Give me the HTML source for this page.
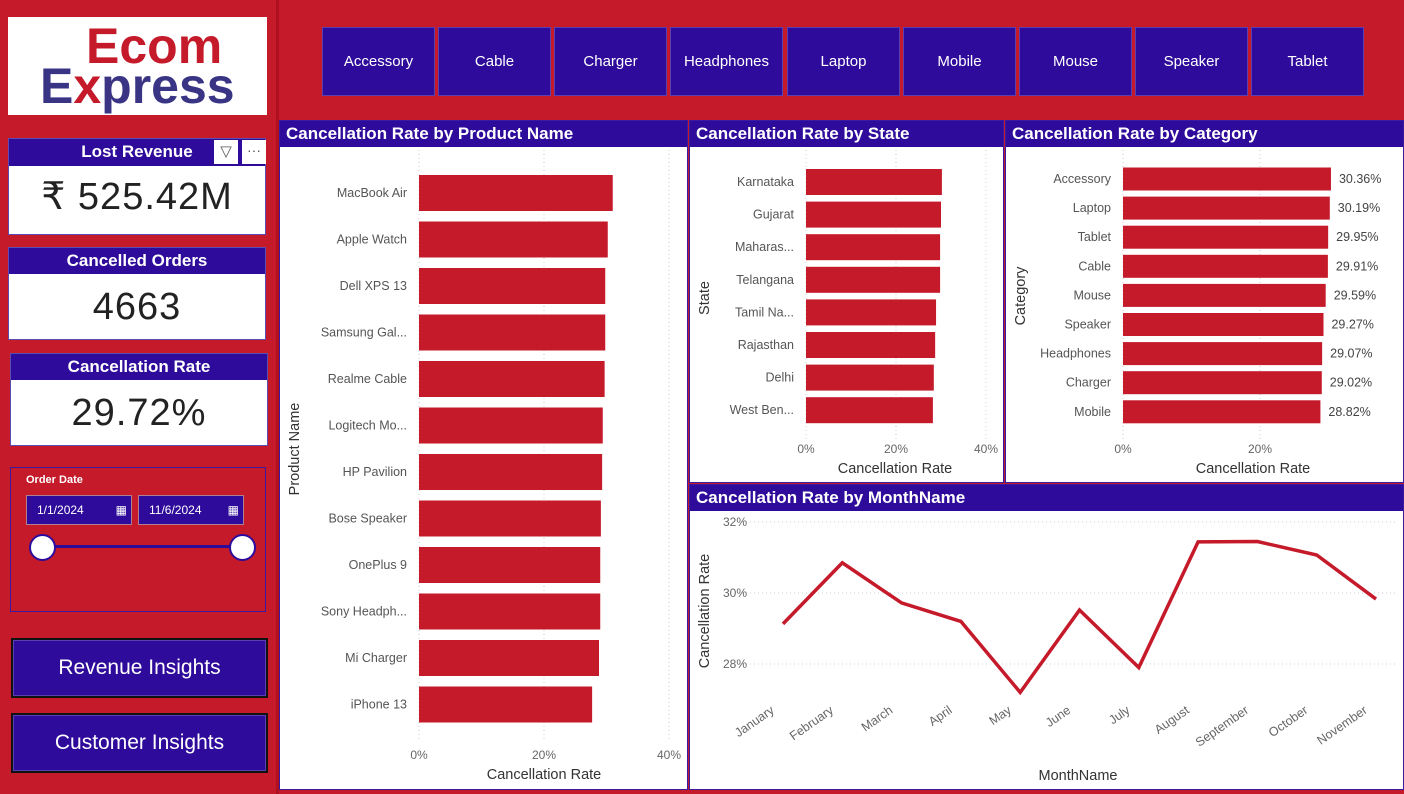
<!DOCTYPE html>
<html><head><meta charset="utf-8">
<style>
body{margin:0;width:1404px;height:794px;overflow:hidden;background:#c51a2a;font-family:"Liberation Sans","DejaVu Sans",sans-serif;position:relative}
.abs{position:absolute;box-sizing:border-box}
.tab{background:#2e0b9a;color:#fff;font-size:15px;display:flex;align-items:center;justify-content:center;border:1px solid #5a3fb0;top:27px;height:69px;width:113px}
.card{background:#fff;border:1px solid #5b4db0}
.card .h{background:#2e0b9a;color:#fff;font-weight:bold;font-size:17px;text-align:center;height:26px;line-height:26px}
.card .v{text-align:center;color:#222;font-size:38px;letter-spacing:1px}
.btn{background:#2e0b9a;color:#fff;font-size:21px;display:flex;align-items:center;justify-content:center;border:2px solid #111;outline:1px solid #5a3fb0;outline-offset:-3px}
.ph{background:#2e0b9a;color:#fff;font-weight:bold;font-size:17px;height:26px;line-height:26px;padding-left:6px}
</style></head><body>
<div class="abs" style="left:276px;top:0;width:3px;height:794px;background:#b01020"></div>
<div class="abs" style="left:8px;top:17px;width:259px;height:98px;background:#fff">
  <div style="position:absolute;left:78px;top:4px;font-size:50px;font-weight:bold;color:#c51a2a;line-height:50px">Ecom</div>
  <div style="position:absolute;left:32px;top:44px;font-size:50px;font-weight:bold;color:#3a3485;line-height:50px">E<span style="color:#c51a2a">x</span>press</div>
</div>
<div class="abs card" style="left:8px;top:138px;width:258px;height:97px">
  <div class="h" style="height:27px">Lost Revenue</div>
  <div class="abs" style="left:205px;top:1px;width:24px;height:24px;background:#fff;color:#555;text-align:center;font-size:15px;line-height:24px">▽</div>
  <div class="abs" style="left:233px;top:1px;width:24px;height:24px;background:#fff;color:#555;text-align:center;font-size:14px;line-height:20px">···</div>
  <div class="v" style="margin-top:8px">₹ 525.42M</div>
</div>
<div class="abs card" style="left:8px;top:247px;width:258px;height:93px">
  <div class="h">Cancelled Orders</div><div class="v" style="margin-top:12px">4663</div>
</div>
<div class="abs card" style="left:10px;top:353px;width:258px;height:93px">
  <div class="h">Cancellation Rate</div><div class="v" style="margin-top:12px">29.72%</div>
</div>
<div class="abs" style="left:10px;top:467px;width:256px;height:145px;border:1px solid #3a1aa0">
  <div class="abs" style="left:15px;top:6px;color:#fff;font-size:11px;font-weight:bold">Order Date</div>
  <div class="abs" style="left:15px;top:27px;width:106px;height:30px;background:#2e0b9a;border:1px solid #b08090;color:#fff;font-size:12px;line-height:28px;padding-left:10px">1/1/2024<span style="position:absolute;right:4px;top:0;font-size:12px">▦</span></div>
  <div class="abs" style="left:127px;top:27px;width:106px;height:30px;background:#2e0b9a;border:1px solid #b08090;color:#fff;font-size:12px;line-height:28px;padding-left:10px">11/6/2024<span style="position:absolute;right:4px;top:0;font-size:12px">▦</span></div>
  <div class="abs" style="left:32px;top:77px;width:200px;height:3px;background:#2e0b9a"></div>
  <div class="abs" style="left:18px;top:66px;width:27px;height:27px;border-radius:50%;background:#fff;border:2px solid #2e0b9a"></div>
  <div class="abs" style="left:218px;top:66px;width:27px;height:27px;border-radius:50%;background:#fff;border:2px solid #2e0b9a"></div>
</div>
<div class="abs btn" style="left:11px;top:638px;width:257px;height:60px">Revenue Insights</div>
<div class="abs btn" style="left:11px;top:713px;width:257px;height:60px">Customer Insights</div>

<div class="abs tab" style="left:322px">Accessory</div>
<div class="abs tab" style="left:438px">Cable</div>
<div class="abs tab" style="left:554px">Charger</div>
<div class="abs tab" style="left:670px">Headphones</div>
<div class="abs tab" style="left:787px">Laptop</div>
<div class="abs tab" style="left:903px">Mobile</div>
<div class="abs tab" style="left:1019px">Mouse</div>
<div class="abs tab" style="left:1135px">Speaker</div>
<div class="abs tab" style="left:1251px">Tablet</div>

<div class="abs" style="left:279px;top:120px;width:409px;height:670px;background:#fff;border:1px solid #3a1aa0"><div class="ph">Cancellation Rate by Product Name</div></div>
<div class="abs" style="left:689px;top:120px;width:315px;height:363px;background:#fff;border:1px solid #3a1aa0"><div class="ph">Cancellation Rate by State</div></div>
<div class="abs" style="left:1005px;top:120px;width:399px;height:363px;background:#fff;border:1px solid #3a1aa0"><div class="ph">Cancellation Rate by Category</div></div>
<div class="abs" style="left:689px;top:484px;width:715px;height:306px;background:#fff;border:1px solid #3a1aa0"><div class="ph">Cancellation Rate by MonthName</div></div>

<svg id="charts" class="abs" style="left:0;top:0" width="1404" height="794" font-family="Liberation Sans, sans-serif"></svg>
<script>
const products=["MacBook Air","Apple Watch","Dell XPS 13","Samsung Gal...","Realme Cable","Logitech Mo...","HP Pavilion","Bose Speaker","OnePlus 9","Sony Headph...","Mi Charger","iPhone 13"];
const productRates=[31.0,30.2,29.8,29.8,29.7,29.4,29.3,29.1,29.0,29.0,28.8,27.7];
const states=["Karnataka","Gujarat","Maharas...","Telangana","Tamil Na...","Rajasthan","Delhi","West Ben..."];
const stateRates=[30.2,30.0,29.8,29.8,28.9,28.7,28.4,28.2];
const categories=["Accessory","Laptop","Tablet","Cable","Mouse","Speaker","Headphones","Charger","Mobile"];
const categoryRates=[30.36,30.19,29.95,29.91,29.59,29.27,29.07,29.02,28.82];
const months=["January","February","March","April","May","June","July","August","September","October","November"];
const monthRates=[29.13,30.85,29.72,29.2,27.2,29.52,27.9,31.44,31.45,31.07,29.83];
const xTicks=[0,20,40];
const yTicksMonth=[28,30,32];

const svg=document.getElementById('charts');
const NS='http://www.w3.org/2000/svg';
function mk(tag,attrs,text){const e=document.createElementNS(NS,tag);for(const k in attrs)e.setAttribute(k,attrs[k]);if(text!==undefined)e.textContent=text;svg.appendChild(e);return e;}

function barChart(name,labels,vals,x0,pxPer,yTop,step,bh,ticks,gridTop,gridBot,tickY,labelsFmt,axisTitleX,axisTitleY,yTitle,yTitleX,yTitleY){
  ticks.forEach(t=>{const x=x0+t*pxPer;
    const g=mk('line',{x1:x,x2:x,y1:gridTop,y2:gridBot,stroke:'#ccc','stroke-dasharray':'1,3'});
    
    const tl=mk('text',{x:x,y:tickY,'font-size':12,fill:'#666','text-anchor':'middle'},t+'%');
    });
  labels.forEach((l,i)=>{const cy=yTop+i*step;
    const r=mk('rect',{x:x0,y:cy-bh/2,width:vals[i]*pxPer,height:bh,fill:'#c51a2a'});
    
    const t=mk('text',{x:x0-12,y:cy+4,'font-size':12.5,fill:'#555','text-anchor':'end'},l);
    
    if(labelsFmt){const v=mk('text',{x:x0+vals[i]*pxPer+8,y:cy+4,'font-size':12.5,fill:'#444'},vals[i].toFixed(2)+'%');
      }
  });
  const at=mk('text',{x:axisTitleX,y:axisTitleY,'font-size':14.5,fill:'#333','text-anchor':'middle'},'Cancellation Rate');
  
  const yt=mk('text',{x:yTitleX,y:yTitleY,'font-size':14.5,fill:'#333','text-anchor':'middle',transform:`rotate(-90 ${yTitleX} ${yTitleY})`},yTitle);
  
}
barChart('product',products,productRates,419,6.25,193,46.5,36,xTicks,150,742,759,false,544,779,'Product Name',299,449);
barChart('state',states,stateRates,806,4.5,182,32.6,26,xTicks,150,440,453,false,895,473,'State',709,298);
barChart('category',categories,categoryRates,1123,6.85,179,29.1,23,[0,20],150,440,453,true,1253,473,'Category',1025,296);

// line chart
const lx0=783,lstep=59.3,ly=v=>664-(v-28)*35.5;
yTicksMonth.forEach(t=>{
  const g=mk('line',{x1:742,x2:1396,y1:ly(t),y2:ly(t),stroke:'#ccc','stroke-dasharray':'1,3'});
  
  const tl=mk('text',{x:747,y:ly(t)+4,'font-size':12,fill:'#666','text-anchor':'end'},t+'%');
  
});
const pts=monthRates.map((v,i)=>(lx0+i*lstep)+','+ly(v)).join(' ');
const pl=mk('polyline',{points:pts,fill:'none',stroke:'#c51a2a','stroke-width':3.5,'stroke-linejoin':'miter'});


months.forEach((m,i)=>{const x=lx0+i*lstep-8,y=712;
  const t=mk('text',{x:x,y:y,'font-size':12.5,fill:'#666','text-anchor':'end',transform:`rotate(-35 ${x} ${y})`},m);
  });
const mt=mk('text',{x:1078,y:780,'font-size':14.5,fill:'#333','text-anchor':'middle'},'MonthName');

const myt=mk('text',{x:709,y:611,'font-size':14.5,fill:'#333','text-anchor':'middle',transform:'rotate(-90 709 611)'},'Cancellation Rate');

</script>
</body></html>
